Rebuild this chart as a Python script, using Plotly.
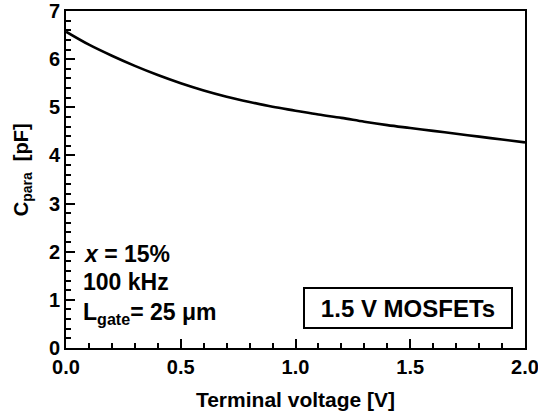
import plotly.graph_objects as go

# Parasitic capacitance vs terminal voltage
voltage = [0.0, 0.1, 0.2, 0.3, 0.4, 0.5, 0.6, 0.7, 0.8, 0.9, 1.0,
           1.1, 1.2, 1.3, 1.4, 1.5, 1.6, 1.7, 1.8, 1.9, 2.0]
c_para = [6.57, 6.30, 6.07, 5.86, 5.67, 5.50, 5.35, 5.22, 5.11, 5.01, 4.93,
          4.85, 4.78, 4.70, 4.63, 4.57, 4.51, 4.45, 4.39, 4.33, 4.27]

FONT = "Liberation Sans, Arial, sans-serif"
INK = "#000000"

fig = go.Figure()
fig.add_trace(go.Scatter(
    x=voltage, y=c_para, mode="lines",
    line=dict(color=INK, width=2.6, shape="spline"),
    showlegend=False,
))

fig.update_layout(
    width=538, height=411,
    margin=dict(l=66, r=13, t=11, b=63),
    plot_bgcolor="white",
    font=dict(family=FONT, color=INK),
    xaxis=dict(
        range=[0, 2.0], dtick=0.5, tickformat=".1f",
        ticks="inside", ticklen=9, tickwidth=2, tickcolor=INK,
        showline=True, linecolor=INK, linewidth=2, mirror=True,
        automargin=False, ticklabeloverflow="allow",
        tickfont=dict(size=20, weight="bold"),
        minor=dict(ticks="inside", ticklen=5, tickcolor=INK, dtick=0.1),
        title=dict(text="Terminal voltage [V]", standoff=16,
                   font=dict(size=21, weight="bold")),
    ),
    yaxis=dict(
        range=[0, 7], dtick=1,
        ticks="inside", ticklen=9, tickwidth=2, tickcolor=INK,
        showline=True, linecolor=INK, linewidth=2, mirror=True,
        automargin=False,
        tickfont=dict(size=20, weight="bold"),
        minor=dict(ticks="inside", ticklen=5, tickcolor=INK, dtick=0.2),
    ),
)

# Y-axis title placed as a rotated annotation
fig.add_annotation(
    x=-0.096, y=0.53, xref="paper", yref="paper",
    text="C<sub>para</sub>  [pF]", textangle=-90, showarrow=False,
    xanchor="center", yanchor="middle",
    font=dict(size=20, weight="bold"),
)

notes = [
    ("<i>x</i> = 15%", 1.96),
    ("100 kHz", 1.38),
    ("L<sub>gate</sub>= 25 μm", 0.72),
]
for text, yv in notes:
    fig.add_annotation(x=0.065, y=yv, xref="x", yref="y", text=text,
                       showarrow=False, xanchor="left", yanchor="middle",
                       font=dict(size=23, weight="bold"))

fig.add_annotation(
    x=1.49, y=0.83, xref="x", yref="y", text="1.5 V MOSFETs",
    showarrow=False, xanchor="center", yanchor="middle",
    width=198, height=30, align="center",
    font=dict(size=24, weight="bold"),
    bordercolor=INK, borderwidth=2, borderpad=4, bgcolor="white",
)

fig.write_html("out.html")
